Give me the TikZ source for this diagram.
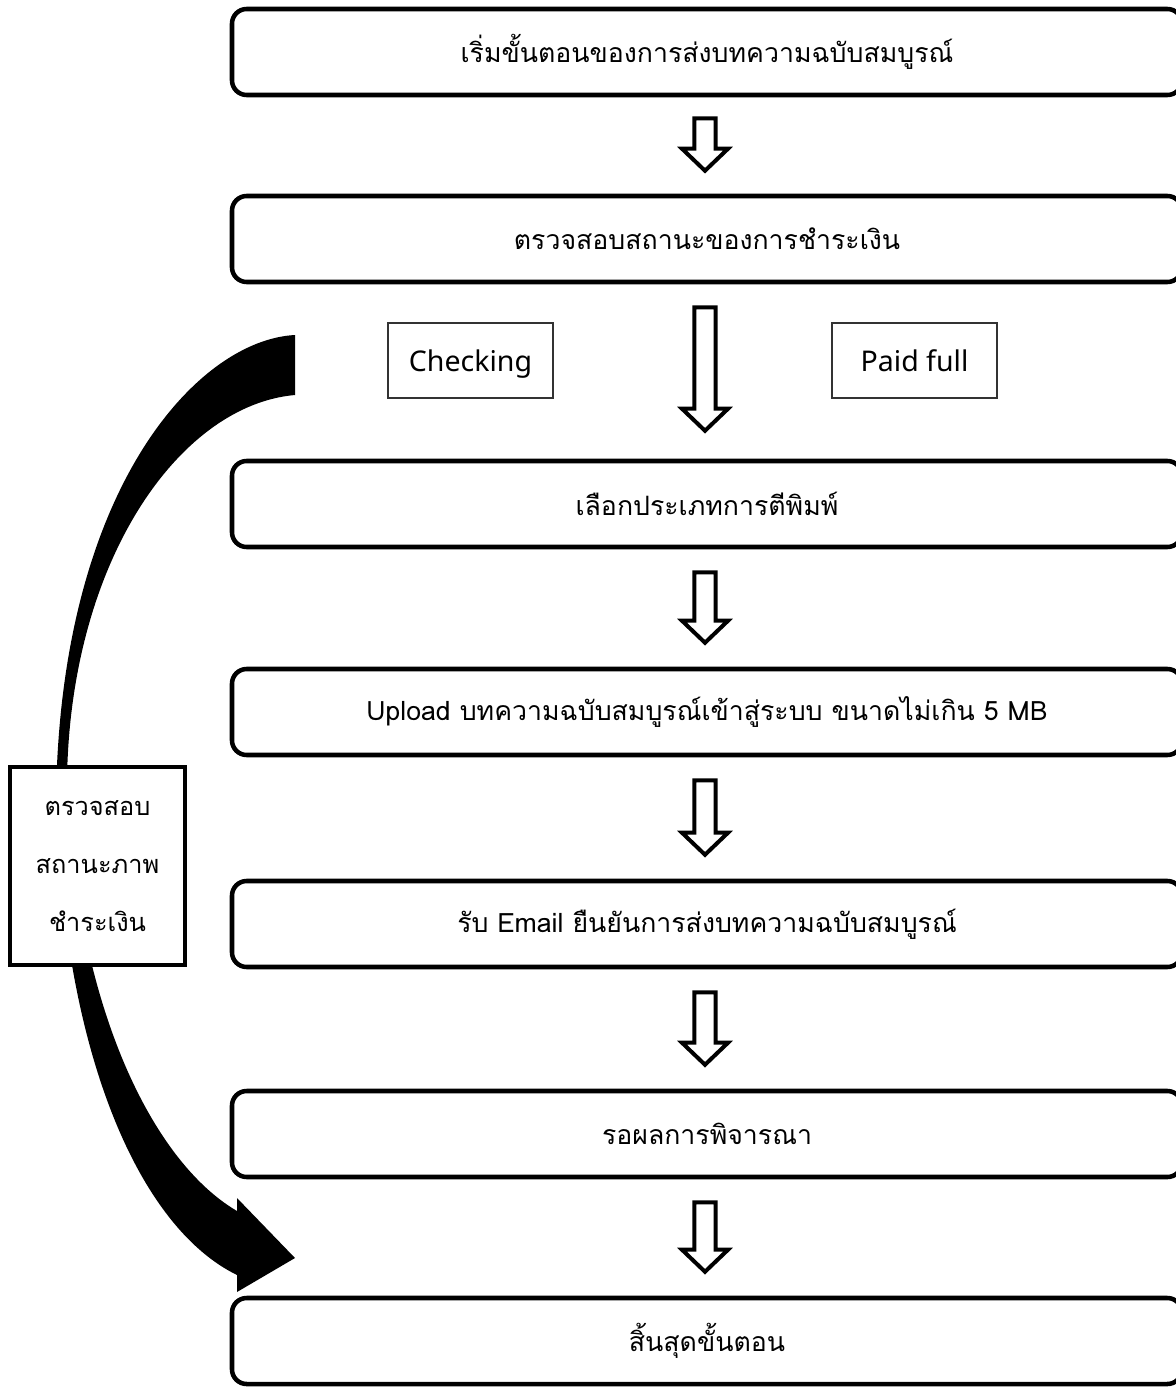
\documentclass[tikz,border=0pt]{standalone}
\usepackage{fontspec}
\setmainfont{Noto Sans}
\newfontfamily\thfont[Script=Thai]{Loma}
\usetikzlibrary{calc}
\tikzset{
  stepbox/.style={draw, line width=3.4pt, rounded corners=11pt, minimum width=712.5pt,
    minimum height=64.5pt, inner sep=0pt, fill=white, font=\thfont\fontsize{20}{24}\selectfont},
  tagbox/.style={draw=black!80, line width=1.1pt, minimum width=123.75pt, minimum height=56.25pt,
    inner sep=0pt, text height=16pt, text depth=0pt, font=\fontsize{21.4}{25}\selectfont},
  notebox/.style={draw, line width=3.4pt, minimum width=131.25pt, minimum height=148.5pt,
    inner sep=0pt, fill=white, align=center, font=\thfont\fontsize{19}{43.5}\selectfont},
  blockarrow/.style={draw, line width=3pt, fill=white, miter limit=10},
  bigcurve/.style={fill=black}
}
\newcommand\blockarr[2]{%
  \path[blockarrow] let \p1=(#1), \p2=(#2) in
    (\x1-7.9pt,\y1) -- (\x1-7.9pt,\y2+16.5pt) -- (\x1-17.25pt,\y2+16.5pt) -- (\x1,\y2)
    -- (\x1+17.25pt,\y2+16.5pt) -- (\x1+7.9pt,\y2+16.5pt) -- (\x1+7.9pt,\y1) -- cycle;}
\begin{document}
\begin{tikzpicture}[x=0.75pt,y=-0.75pt]
\useasboundingbox (0,0) rectangle (1175,1387);
% big curved arrow
\fill[bigcurve] (295,335) .. controls (200,340) and (70,480) .. (57,765)
  .. controls (54,1010) and (125,1220) .. (237,1275)
  -- (237,1292) -- (295,1258) -- (237,1198) -- (237,1211)
  .. controls (150,1160) and (75,1000) .. (67,780)
  .. controls (70,560) and (180,405) .. (295,395)
  -- cycle;
% main steps
\node[stepbox] (b1) at (707,52)  {เริ่มขั้นตอนของการส่งบทความฉบับสมบูรณ์};
\node[stepbox] (b2) at (707,239) {ตรวจสอบสถานะของการชำระเงิน};
\node[stepbox] (b3) at (707,504) {เลือกประเภทการตีพิมพ์};
\node[stepbox] (b4) at (707,712) {Upload บทความฉบับสมบูรณ์เข้าสู่ระบบ ขนาดไม่เกิน 5 MB};
\node[stepbox] (b5) at (707,924) {รับ Email ยืนยันการส่งบทความฉบับสมบูรณ์};
\node[stepbox] (b6) at (707,1134) {รอผลการพิจารณา};
\node[stepbox] (b7) at (707,1341) {สิ้นสุดขั้นตอน};
% tags
\node[tagbox] (chk) at (470.5,360.5) {Checking};
\node[tagbox] (paid) at (914.5,360.5) {Paid full};
% side note
\node[notebox] (note) at (97.5,866) {ตรวจสอบ\\สถานะภาพ\\ชำระเงิน};
% block arrows
\coordinate (a1s) at ($(b1.south)+(-2,21)$);
\coordinate (a1t) at ($(b2.north)+(-2,-23)$);
\coordinate (a2s) at ($(b2.south)+(-2,23)$);
\coordinate (a2t) at ($(b3.north)+(-2,-28)$);
\coordinate (a3s) at ($(b3.south)+(-2,23)$);
\coordinate (a3t) at ($(b4.north)+(-2,-24)$);
\coordinate (a4s) at ($(b4.south)+(-2,23)$);
\coordinate (a4t) at ($(b5.north)+(-2,-24)$);
\coordinate (a5s) at ($(b5.south)+(-2,23)$);
\coordinate (a5t) at ($(b6.north)+(-2,-24)$);
\coordinate (a6s) at ($(b6.south)+(-2,23)$);
\coordinate (a6t) at ($(b7.north)+(-2,-24)$);
\blockarr{a1s}{a1t}
\blockarr{a2s}{a2t}
\blockarr{a3s}{a3t}
\blockarr{a4s}{a4t}
\blockarr{a5s}{a5t}
\blockarr{a6s}{a6t}
\end{tikzpicture}
\end{document}
